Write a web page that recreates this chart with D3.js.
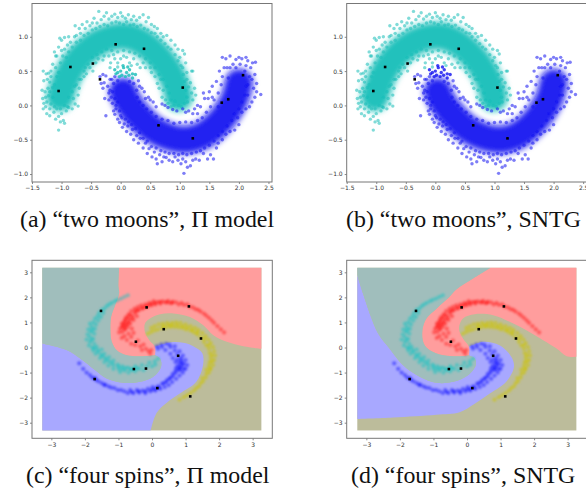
<!DOCTYPE html>
<html>
<head>
<meta charset="utf-8">
<script src="https://cdn.jsdelivr.net/npm/d3@7"></script>
<style>
body{margin:0;background:#fff}
svg{display:block}
</style>
</head>
<body>
<script>
// values, data coordinates of each plot
const moonXTicks=[-1.5,-1,-0.5,0,0.5,1,1.5,2,2.5];
const moonYTicks=[-1,-0.5,0,0.5,1];
const spinTicks=[-3,-2,-1,0,1,2,3];

const tealSpine=[[-1.02,0.12],[-0.95,0.32],[-0.8,0.58],[-0.6,0.78],[-0.35,0.93],[-0.1,1.0],[0.15,1.0],[0.4,0.9],[0.6,0.75],[0.8,0.53],[0.93,0.3],[0.98,0.12]];
const blueSpine=[[0.04,0.2],[0.12,0.05],[0.3,-0.15],[0.55,-0.35],[0.85,-0.47],[1.1,-0.5],[1.35,-0.45],[1.6,-0.3],[1.8,-0.1],[1.93,0.1],[2.0,0.33]];

const tealMoon=[[-1.31,0.5],[-1.26,0.46],[-1.22,0.47],[-1.18,0.5],[-1.3,0.36],[-1.24,0.38],[-1.2,0.34],[-1.33,0.22],[-1.28,0.2],[-1.23,0.25],[-1.32,0.1],[-1.27,0.12],[-1.22,0.14],[-1.3,0.03],[-1.25,0.05],[-1.31,-0.05],[-1.27,-0.02],[-1.2,-0.05],[-1.25,-0.12],[-1.2,-0.15],[-1.13,-0.1],[-1.08,-0.05],[-1.1,-0.2],[-1.05,-0.16],[-1.0,-0.12],[-1.05,-0.36],[-1.02,-0.24],[-0.97,-0.22],[-0.95,-0.26],[-0.92,-0.08],[-0.88,-0.03],[-0.82,-0.05],[-0.77,0.02],[-0.72,-0.01],[-0.8,0.1],[-0.72,0.15],[-0.7,0.25],[-0.75,0.3],[-0.67,0.38],[-0.62,0.42],[-0.58,0.46],[-0.6,0.55],[-0.52,0.55],[-0.47,0.5],[-0.42,0.62],[-0.38,0.68],[-0.3,0.66],[-0.28,0.72],[-0.2,0.72],[-0.17,0.62],[-0.12,0.74],[-1.15,0.6],[-1.03,0.98],[-1.0,0.95],[-0.95,0.99],[-0.88,1.0],[-1.1,0.72],[-1.12,0.78],[-1.08,0.72],[-1.05,0.85],[-1.0,0.8],[-0.95,0.82],[-0.9,0.88],[-0.85,0.92],[-0.78,1.0],[-0.75,1.02],[-0.77,1.16],[-0.7,1.12],[-0.65,1.18],[-0.68,1.05],[-0.6,1.12],[-0.57,1.22],[-0.52,1.16],[-0.48,1.2],[-0.45,1.27],[-0.4,1.2],[-0.37,1.37],[-0.33,1.25],[-0.28,1.3],[-0.24,1.35],[-0.2,1.26],[-0.15,1.3],[-0.1,1.33],[-0.05,1.28],[0.0,1.35],[0.03,1.3],[0.08,1.27],[0.13,1.32],[0.18,1.25],[0.22,1.3],[0.27,1.24],[0.32,1.28],[0.38,1.32],[0.43,1.22],[0.47,1.28],[0.52,1.18],[0.57,1.15],[0.62,1.12],[0.68,1.05],[0.72,1.0],[0.78,1.02],[0.85,0.95],[0.92,0.88],[0.97,0.82],[1.05,0.8],[1.08,0.75],[1.0,0.7],[1.1,0.62],[1.05,0.55],[1.12,0.48],[1.2,0.5],[1.22,0.5],[1.12,0.38],[1.18,0.33],[1.15,0.27],[1.25,0.25],[1.2,0.18],[1.27,0.15],[1.22,0.08],[1.13,0.05],[1.08,0.03],[1.03,-0.02],[0.98,0.0],[0.9,0.0],[0.85,-0.02],[0.8,0.03],[0.76,0.08],[0.7,0.12],[0.72,0.22],[0.65,0.25],[0.62,0.32],[0.68,0.38],[0.58,0.42],[0.52,0.48],[0.5,0.55],[0.42,0.55],[0.38,0.62],[0.33,0.55],[0.28,0.6],[0.22,0.68],[0.15,0.62],[0.1,0.7],[0.05,0.72],[0.0,0.68],[-0.05,0.62],[-0.1,0.68],[-0.18,0.55],[0.18,0.58],[-0.05,0.56],
[-1.18,0.42],[-1.12,0.3],[-1.2,0.2],[-1.15,0.12],[-1.18,0.02],[-1.12,-0.02],[-1.15,0.26],[-1.08,0.42],[-1.1,0.55],[-1.02,0.62],[-1.05,0.48],[-0.98,0.72],[-0.92,0.7],[-0.88,0.78],[-0.82,0.85],[-0.75,0.92],[-0.68,0.95],[-0.62,1.02],[-0.55,1.05],[-0.48,1.1],[-0.42,1.12],[-0.35,1.15],[-0.28,1.18],[-0.22,1.16],[-0.15,1.2],[-0.08,1.22],[-0.02,1.2],[0.05,1.18],[0.1,1.22],[0.16,1.17],[0.22,1.18],[0.28,1.15],[0.34,1.17],[0.4,1.12],[0.46,1.1],[0.52,1.06],[0.58,1.05],[0.62,1.0],[0.68,0.95],[0.75,0.9],[0.8,0.85],[0.85,0.82],[0.92,0.74],[0.97,0.65],[1.02,0.58],[1.06,0.45],[1.08,0.35],[1.1,0.22],[1.12,0.12],
[-0.88,0.12],[-0.82,0.2],[-0.78,0.28],[-0.7,0.38],[-0.62,0.5],[-0.55,0.6],[-0.48,0.7],[-0.4,0.74],[-0.32,0.78],[-0.24,0.82],[-0.15,0.8],[-0.05,0.78],[0.05,0.8],[0.15,0.78],[0.24,0.76],[0.32,0.72],[0.42,0.68],[0.5,0.62],[0.58,0.55],[0.65,0.45],[0.72,0.38],[0.78,0.28],[0.82,0.18],[0.85,0.08],[0.92,0.06],[-0.95,0.0],[-1.02,-0.05],[-0.9,-0.02]];

const blueMoon=[[-0.35,0.42],[-0.3,0.45],[-0.25,0.43],[-0.33,0.32],[-0.3,0.25],[-0.28,0.33],[-0.22,0.28],[-0.18,0.22],[-0.27,0.1],[-0.2,0.08],[-0.16,0.12],[-0.14,0.03],[-0.25,-0.15],[-0.12,-0.08],[-0.1,-0.13],[-0.08,0.0],[-0.05,-0.2],[-0.02,-0.25],[0.0,-0.15],[0.03,-0.32],[0.06,-0.27],[0.1,-0.38],[0.12,-0.3],[0.17,-0.42],[0.2,-0.35],[0.22,-0.5],[0.27,-0.44],[0.3,-0.55],[0.33,-0.48],[0.38,-0.62],[0.42,-0.55],[0.45,-0.7],[0.48,-0.63],[0.53,-0.75],[0.57,-0.68],[0.6,-0.78],[0.62,-0.85],[0.66,-0.72],[0.7,-0.82],[0.73,-0.75],[0.77,-0.76],[0.82,-0.8],[0.88,-0.82],[0.92,-0.75],[0.97,-0.8],[1.02,-0.85],[1.05,-0.78],[1.1,-0.82],[1.13,-0.9],[1.18,-0.88],[1.07,-0.99],[1.22,-0.8],[1.27,-0.78],[1.33,-0.8],[1.4,-0.7],[1.47,-0.78],[1.52,-0.72],[1.57,-0.78],[1.62,-0.62],[1.65,-0.55],[1.72,-0.5],[1.78,-0.42],[1.85,-0.38],[1.93,-0.36],[2.0,-0.28],[1.98,-0.18],[2.05,-0.1],[2.12,-0.05],[2.18,-0.02],[2.22,0.05],[2.27,0.12],[2.37,0.16],[2.3,0.2],[2.25,0.25],[2.3,0.32],[2.22,0.38],[2.27,0.45],[2.2,0.55],[2.28,0.63],[2.23,0.62],[2.15,0.65],[2.12,0.7],[2.05,0.68],[2.0,0.7],[1.95,0.67],[1.85,0.72],[1.78,0.68],[1.72,0.7],[1.75,0.55],[1.67,0.5],[1.62,0.35],[1.55,0.28],[1.5,0.2],[1.48,0.1],[1.42,0.1],[1.4,0.18],[1.35,-0.02],[1.3,0.0],[1.25,-0.05],[1.22,-0.12],[1.15,-0.08],[1.1,-0.1],[1.05,-0.05],[0.95,-0.08],[0.88,-0.06],[0.8,-0.03],[0.75,0.0],[0.7,0.02],[0.6,-0.02],[0.55,0.05],[0.5,0.08],[0.47,0.12],[0.42,0.1],[0.4,0.2],[0.36,0.25],[0.32,0.28],[0.3,0.36],[0.27,0.22],[-0.15,0.38],[-0.1,0.42],[-0.05,0.36],[0.15,0.35],[0.22,0.32],[1.85,0.55],[1.95,0.55],[2.1,0.5],[1.82,0.4],[2.12,0.28],[2.15,0.15],
[-0.18,0.38],[-0.12,0.32],[-0.2,0.18],[-0.14,0.2],[-0.1,0.1],[-0.05,0.05],[-0.08,-0.05],[-0.02,-0.08],[0.02,-0.18],[0.08,-0.2],[0.13,-0.24],[0.18,-0.28],[0.25,-0.34],[0.32,-0.4],[0.38,-0.48],[0.45,-0.52],[0.52,-0.6],[0.6,-0.62],[0.68,-0.66],[0.75,-0.68],[0.82,-0.7],[0.9,-0.7],[0.98,-0.72],[1.05,-0.7],[1.12,-0.72],[1.2,-0.7],[1.28,-0.68],[1.35,-0.66],[1.42,-0.62],[1.5,-0.58],[1.58,-0.52],[1.65,-0.44],[1.72,-0.38],[1.8,-0.3],[1.88,-0.22],[1.92,-0.12],[2.0,-0.05],[2.05,0.05],[2.1,0.15],[2.15,0.3],[2.18,0.42],
[0.28,0.12],[0.32,0.05],[0.38,0.0],[0.44,-0.05],[0.52,-0.1],[0.6,-0.16],[0.7,-0.2],[0.8,-0.22],[0.9,-0.26],[1.0,-0.25],[1.1,-0.24],[1.2,-0.25],[1.3,-0.22],[1.38,-0.18],[1.45,-0.1],[1.52,-0.02],[1.58,0.08],[1.65,0.18],[1.7,0.3],[1.72,0.42],[1.8,0.55],[1.9,0.6],[2.02,0.6],[2.12,0.58],[1.65,-0.02],[1.55,0.12],[1.3,-0.12]];

// the points that change class between the two moon plots
const contestedMoon=[[-0.1,0.52],[-0.05,0.48],[0.0,0.5],[0.05,0.55],[0.1,0.48],[0.15,0.52],[0.2,0.46],[0.25,0.45],[0.02,0.44],[-0.02,0.42],[0.08,0.42],[0.14,0.44],[0.2,0.4],[-0.08,0.46],[0.04,0.58],[0.12,0.56]];

const moonLabeled=[[-1.05,0.21],[-0.85,0.56],[-0.47,0.61],[-0.35,0.38],[-0.085,0.89],[0.395,0.825],[1.05,0.26],[0.64,-0.29],[1.22,-0.48],[1.71,0.04],[1.82,0.09],[2.07,0.44]];

const redSpin=[[2.15,0.6],[2.05,0.72],[1.95,0.85],[1.85,0.98],[1.78,1.08],[1.7,1.18],[1.62,1.27],[1.55,1.35],[1.45,1.43],[1.38,1.5],[1.3,1.53],[1.22,1.6],[1.12,1.63],[1.05,1.72],[0.95,1.7],[0.88,1.78],[0.8,1.72],[0.72,1.8],[0.62,1.83],[0.55,1.77],[0.48,1.86],[0.4,1.8],[0.32,1.84],[0.25,1.75],[0.18,1.82],[0.1,1.72],[0.05,1.85],[-0.02,1.68],[-0.08,1.78],[-0.15,1.62],[-0.2,1.72],[-0.28,1.55],[-0.32,1.68],[-0.4,1.48],[-0.42,1.62],[-0.5,1.38],[-0.52,1.55],[-0.58,1.25],[-0.62,1.45],[-0.68,1.1],[-0.7,1.32],[-0.75,0.95],[-0.78,1.2],[-0.82,1.05],[-0.85,0.85],[-0.9,0.95],[-0.95,0.75],[-0.98,0.6],[-0.88,0.62],[-0.8,0.72],[-0.72,0.82],[-0.65,0.95],[-0.55,1.1],[-0.45,1.25],[-0.6,0.75],[-0.7,0.55],[-0.82,0.45],[-0.9,0.38],[-0.75,0.3],[-0.62,0.42],[-0.55,0.58],[-0.5,0.1],[-0.62,0.15],[-0.42,0.28],[-0.35,0.05],[-0.25,0.12],[-0.3,-0.1],[-0.18,-0.05],[-0.1,-0.15],[-0.02,-0.1],[-0.05,-0.25],
[-0.8,1.1],[-0.72,1.2],[-0.65,1.3],[-0.85,0.95],[-0.78,0.88],[-0.7,1.0],[-0.6,1.15],[-0.5,1.45],[-0.42,1.5],[-0.9,0.82],[-0.82,0.75],[-0.3,1.58],[-0.2,1.62],[-0.1,1.7],[0.0,1.75],[0.1,1.78],[0.25,1.82],[0.45,1.8],[0.6,1.78]];

const tealSpin=[[-0.72,2.08],[-0.82,2.02],[-0.92,1.95],[-1.02,1.9],[-1.1,1.85],[-1.2,1.78],[-1.28,1.72],[-1.35,1.65],[-1.42,1.55],[-1.5,1.5],[-1.45,1.38],[-1.58,1.38],[-1.62,1.25],[-1.52,1.22],[-1.7,1.15],[-1.6,1.08],[-1.75,1.0],[-1.67,0.92],[-1.85,0.95],[-1.8,0.82],[-1.7,0.75],[-1.9,0.72],[-1.82,0.62],[-1.72,0.55],[-1.92,0.52],[-1.85,0.42],[-1.75,0.35],[-1.95,0.32],[-1.85,0.22],[-1.72,0.15],[-1.88,0.08],[-1.78,0.0],[-1.65,0.03],[-1.75,-0.12],[-1.62,-0.1],[-1.5,-0.08],[-1.68,-0.25],[-1.52,-0.28],[-1.42,-0.25],[-1.55,-0.42],[-1.4,-0.42],[-1.28,-0.38],[-1.42,-0.58],[-1.28,-0.55],[-1.15,-0.52],[-1.3,-0.72],[-1.15,-0.7],[-1.02,-0.68],[-1.15,-0.85],[-1.0,-0.85],[-0.88,-0.75],[-0.95,-0.98],[-0.82,-0.92],[-0.72,-0.8],[-0.7,-1.0],[-0.6,-0.9],[-0.5,-0.75],[-0.5,-0.95],[-0.38,-0.85],[-0.3,-0.7],[-0.25,-0.9],[-0.15,-0.75],[-0.08,-0.6],[0.0,-0.75],[0.08,-0.55],[0.18,-0.45],[0.1,-0.68],
[-1.0,-0.75],[-0.9,-0.85],[-0.8,-0.82],[-0.65,-0.85],[-0.55,-0.85],[-1.2,-0.62],[-1.35,-0.48],[-1.48,-0.35],[-1.6,-0.18],[-1.72,-0.02],[-1.8,0.3],[-1.78,0.7],[-0.45,-0.82]];

const blueSpin=[[-2.17,-0.63],[-2.05,-0.85],[-1.95,-1.0],[-1.85,-1.1],[-1.78,-1.2],[-1.68,-1.28],[-1.6,-1.35],[-1.5,-1.42],[-1.42,-1.5],[-1.3,-1.55],[-1.22,-1.6],[-1.12,-1.62],[-1.02,-1.7],[-0.92,-1.7],[-0.82,-1.75],[-0.72,-1.82],[-0.65,-1.7],[-0.55,-1.82],[-0.45,-1.7],[-0.38,-1.8],[-0.28,-1.72],[-0.2,-1.82],[-0.12,-1.65],[-0.05,-1.75],[0.02,-1.58],[0.1,-1.72],[0.18,-1.55],[0.25,-1.65],[0.3,-1.45],[0.38,-1.58],[0.42,-1.38],[0.5,-1.5],[0.52,-1.25],[0.6,-1.38],[0.62,-1.15],[0.72,-1.25],[0.7,-1.02],[0.82,-1.12],[0.78,-0.9],[0.92,-1.0],[0.85,-0.78],[1.0,-0.85],[0.72,-0.8],[0.82,-0.6],[0.95,-0.65],[1.05,-0.7],[0.7,-0.58],[0.85,-0.42],[1.0,-0.5],[0.62,-0.42],[0.75,-0.28],[0.92,-0.32],[0.55,-0.25],[0.68,-0.12],[0.82,-0.15],[0.4,-0.1],[0.55,0.02],[0.68,0.05],[0.3,0.02],[0.42,0.15],[0.18,-0.05],[0.28,0.12],[0.15,0.05],[0.52,0.12],
[0.85,-0.9],[0.95,-0.85],[0.9,-0.7],[0.78,-0.72],[0.88,-0.6],[0.82,-0.82],[0.7,-0.92],[0.62,-1.05],[0.55,-1.2],[0.45,-1.3],[0.35,-1.42],[0.2,-1.6],[0.1,-1.65],[0,-1.68],[-0.2,-1.75],[-0.4,-1.75],[-0.6,-1.78],[0.75,-0.48],[0.88,-0.5],[-1.4,-1.48],[-1.7,-1.22]];

const oliveSpin=[[0.82,-2.08],[0.95,-1.98],[1.05,-1.9],[1.15,-1.82],[1.25,-1.72],[1.32,-1.62],[1.4,-1.55],[1.45,-1.42],[1.52,-1.35],[1.5,-1.22],[1.6,-1.2],[1.62,-1.05],[1.7,-1.0],[1.62,-0.88],[1.75,-0.85],[1.7,-0.72],[1.82,-0.7],[1.72,-0.58],[1.85,-0.5],[1.75,-0.4],[1.88,-0.32],[1.72,-0.22],[1.85,-0.15],[1.7,-0.05],[1.82,0.02],[1.62,0.08],[1.75,0.18],[1.55,0.22],[1.68,0.32],[1.45,0.4],[1.6,0.45],[1.35,0.52],[1.5,0.58],[1.25,0.6],[1.38,0.7],[1.15,0.68],[1.28,0.78],[1.02,0.72],[1.15,0.85],[0.92,0.78],[1.0,0.92],[0.8,0.8],[0.85,0.98],[0.68,0.82],[0.72,1.0],[0.55,0.82],[0.6,0.98],[0.42,0.8],[0.45,0.98],[0.3,0.78],[0.32,0.95],[0.18,0.72],[0.2,0.92],[0.08,0.68],[0.08,0.85],[-0.02,0.62],[-0.02,0.78],[-0.12,0.55],
[0.6,0.88],[0.75,0.9],[0.9,0.85],[0.5,0.9],[0.35,0.85],[1.05,0.8],[1.2,0.7],[1.35,0.6],[1.55,0.35],[1.7,0.1],[1.78,-0.3],[1.78,-0.55],[1.72,-0.85]];

const spinLabeled=[[-1.52,1.46],[-0.16,1.6],[1.1,1.64],[0.35,0.73],[1.46,0.36],[-0.48,0.23],[0.78,-0.33],[-0.54,-0.86],[-0.18,-0.84],[-1.71,-1.26],[0.16,-1.62],[1.14,-1.95]];

const meshX=[-3.27,3.26];
const meshY=[-3.31,3.18];

// decision boundaries, panel c
const piRedTeal=[[-0.98,3.18],[-1.0,2.42],[-0.98,2.16],[-1.1,1.69],[-1.22,1.22],[-1.24,0.69],[-1.2,0.23],[-1.05,-0.11],[-0.75,-0.31],[-0.32,-0.35],[0.09,-0.31]];
const piTealBlue=[[-3.27,0.16],[-2.53,-0.11],[-2.14,-0.44],[-1.69,-0.91],[-1.35,-1.24],[-0.85,-1.41],[-0.35,-1.37],[0.04,-1.17],[0.27,-0.77],[0.24,-0.44],[0.09,-0.31]];
const piRedOlive=[[0.09,-0.31],[0.09,0.03],[-0.08,0.29],[-0.21,0.62],[-0.21,0.96],[-0.06,1.16],[0.24,1.33],[0.64,1.36],[1.13,1.22],[1.53,0.89],[1.83,0.49],[2.23,0.23],[2.72,0.05],[3.26,-0.05]];
const piOliveBlue=[[0.09,0.03],[0.54,0.2],[0.93,0.19],[1.23,0.05],[1.5,-0.23],[1.52,-0.72],[1.32,-1.37],[0.83,-1.84],[0.44,-2.2],[0.14,-2.6],[-0.04,-3.31]];

// decision boundaries, panel d
const sntgRedTeal=[[0.7,3.18],[0.18,2.75],[-0.32,2.31],[-0.52,2.02],[-0.91,1.55],[-1.21,1.16],[-1.33,0.69],[-1.29,0.16],[-1.11,-0.11],[-0.71,-0.31],[-0.22,-0.35],[0.06,-0.32]];
const sntgTealBlue=[[-3.27,2.88],[-3.1,2.15],[-2.9,1.36],[-2.65,0.56],[-2.31,-0.04],[-1.91,-0.7],[-1.41,-1.17],[-0.91,-1.41],[-0.41,-1.37],[0.03,-1.11],[0.26,-0.71],[0.23,-0.44],[0.06,-0.32]];
const sntgRedOlive=[[0.06,-0.32],[0.06,0.03],[-0.12,0.36],[-0.24,0.76],[-0.12,1.16],[0.23,1.33],[0.78,1.29],[1.27,1.03],[1.77,0.69],[2.27,0.29],[2.67,-0.04],[2.97,-0.35],[3.26,-0.37]];
const sntgOliveBlue=[[0.06,0.03],[0.48,0.23],[0.97,0.09],[1.32,-0.37],[1.4,-0.77],[1.17,-1.37],[0.68,-1.84],[0.23,-2.24],[-0.22,-2.58],[-0.91,-2.68],[-2.2,-2.79],[-3.27,-2.85]];

const captions=["(a) “two moons”, Π model","(b) “two moons”, SNTG","(c) “four spins”, Π model","(d) “four spins”, SNTG"];

const width=586,height=488;
const svg=d3.select("body").append("svg").attr("width",width).attr("height",height);

const defs=svg.append("defs");

function addBlur(id,amount){
    defs.append("filter").attr("id",id)
        .attr("x","-20%").attr("y","-20%").attr("width","140%").attr("height","140%")
        .append("feGaussianBlur").attr("stdDeviation",amount);
}

addBlur("soft",0.45);
addBlur("band",3.2);
addBlur("cloud",1.05);

function drawFrame(box,x,y,xTicks,yTicks,format){

    const g=svg.append("g").attr("class","frame");

    const xAxis=d3.axisBottom(x).tickValues(xTicks).tickFormat(format).tickSize(2).tickPadding(2);
    const yAxis=d3.axisLeft(y).tickValues(yTicks).tickFormat(format).tickSize(2).tickPadding(2);

    g.append("g").attr("transform",`translate(0,${box.bottom})`).call(xAxis);
    g.append("g").attr("transform",`translate(${box.left},0)`).call(yAxis);

    g.selectAll(".domain").remove();
    g.selectAll("line").attr("stroke","#555").attr("stroke-width",0.7);
    g.selectAll("text").attr("font-family","DejaVu Sans").attr("font-size",6).attr("fill","#333");

    g.append("rect")
        .attr("x",box.left)
        .attr("y",box.top)
        .attr("width",box.right-box.left)
        .attr("height",box.bottom-box.top)
        .attr("fill","none")
        .attr("stroke","#777")
        .attr("stroke-width",1);

}

function drawDots(g,points,x,y,color,r,alpha){

    g.selectAll(null)
        .data(points)
        .enter()
        .append("circle")
        .attr("cx",d=>x(d[0]))
        .attr("cy",d=>y(d[1]))
        .attr("r",r)
        .attr("fill",color)
        .attr("fill-opacity",alpha);

}

function drawLabeled(g,points,x,y){

    g.selectAll(null)
        .data(points)
        .enter()
        .append("rect")
        .attr("x",d=>x(d[0])-1.3)
        .attr("y",d=>y(d[1])-1.3)
        .attr("width",2.6)
        .attr("height",2.6)
        .attr("fill","black");

}

function drawMoons(box,contestedColor){

    const x=d3.scaleLinear().domain([-1.5,2.56]).range([box.left,box.right]);
    const y=d3.scaleLinear().domain([-1.116,1.485]).range([box.bottom,box.top]);

    const g=svg.append("g").attr("filter","url(#soft)");

    g.append("rect")
        .attr("x",box.left).attr("y",box.top)
        .attr("width",box.right-box.left).attr("height",box.bottom-box.top)
        .attr("fill","white");

    const line=d3.line().x(d=>x(d[0])).y(d=>y(d[1])).curve(d3.curveCatmullRom);

    // dense middle of each moon, the loose points go on top
    const bands=g.append("g").attr("filter","url(#band)");

    [[tealSpine,"#10bcb6"],[blueSpine,"#0808f0"]].forEach(([spine,color])=>{
        bands.append("path").attr("d",line(spine)).attr("fill","none")
            .attr("stroke",color).attr("stroke-opacity",0.92)
            .attr("stroke-width",28).attr("stroke-linecap","round");
    });

    drawDots(g,tealMoon,x,y,"#17bdb8",1.7,0.55);
    drawDots(g,blueMoon,x,y,"#1212f0",1.7,0.55);
    drawDots(g,contestedMoon,x,y,contestedColor,1.7,0.8);
    drawLabeled(g,moonLabeled,x,y);

    drawFrame(box,x,y,moonXTicks,moonYTicks,d3.format(".1f"));

}

function drawSpins(box,redTeal,tealBlue,redOlive,oliveBlue,originX){

    const x=d3.scaleLinear().domain([-3,3]).range([originX-100.65,originX+100.65]);
    const y=d3.scaleLinear().domain([-3,3]).range([422.7,272.3]);

    const g=svg.append("g").attr("filter","url(#soft)");

    const line=d3.line().x(d=>x(d[0])).y(d=>y(d[1])).curve(d3.curveCatmullRom);
    const rev=a=>a.slice().reverse();

    // arrays of points are smooth boundaries, a plain pair is a corner of the mesh
    const regionPath=parts=>parts.map((p,i)=>{
        if(!Array.isArray(p[0])) return "L"+x(p[0])+","+y(p[1]);
        const s=line(p);
        return i?s.replace("M","L"):s;
    }).join("")+"Z";

    const left=meshX[0],right=meshX[1],bottom=meshY[0],top=meshY[1];

    // paint the whole mesh olive, then lay the other three regions over it
    g.append("rect")
        .attr("x",x(left)).attr("y",y(top))
        .attr("width",x(right)-x(left)).attr("height",y(bottom)-y(top))
        .attr("fill","#bcbc9b");

    const blueParts=[tealBlue,oliveBlue];
    if(oliveBlue[oliveBlue.length-1][0]!==left) blueParts.push([left,bottom]);

    g.append("path").attr("fill","#a8a8ff").attr("d",regionPath(blueParts));
    g.append("path").attr("fill","#ff9d9d").attr("d",regionPath([redOlive,[right,top],redTeal]));
    g.append("path").attr("fill","#a0bebc").attr("d",regionPath([redTeal,rev(tealBlue),[left,top]]));

    const clouds=g.append("g").attr("filter","url(#cloud)");
    drawDots(clouds,redSpin,x,y,"#ff0000",2.1,0.42);
    drawDots(clouds,tealSpin,x,y,"#00c4c4",2.1,0.46);
    drawDots(clouds,blueSpin,x,y,"#0000ff",2.1,0.46);
    drawDots(clouds,oliveSpin,x,y,"#cdc500",2.1,0.55);
    drawLabeled(g,spinLabeled,x,y);

    drawFrame(box,x,y,spinTicks,spinTicks,d3.format("d"));

}

drawMoons({left:32,right:272,top:3.5,bottom:182},"#17bdb8");
drawMoons({left:346.7,right:586.7,top:3.5,bottom:182},"#1212f0");

drawSpins({left:32,right:272.3,top:260.3,bottom:438.3},piRedTeal,piTealBlue,piRedOlive,piOliveBlue,152);
drawSpins({left:346.7,right:587,top:260.3,bottom:438.3},sntgRedTeal,sntgTealBlue,sntgRedOlive,sntgOliveBlue,467);

const captionX=[20,346,26,351];
const captionY=[227,227,483,483];

svg.selectAll(".caption")
    .data(captions)
    .enter()
    .append("text")
    .attr("class","caption")
    .attr("x",(d,i)=>captionX[i])
    .attr("y",(d,i)=>captionY[i])
    .attr("font-family","Liberation Serif")
    .attr("font-size",23.9)
    .attr("fill","#111")
    .text(d=>d);
</script>
</body>
</html>
